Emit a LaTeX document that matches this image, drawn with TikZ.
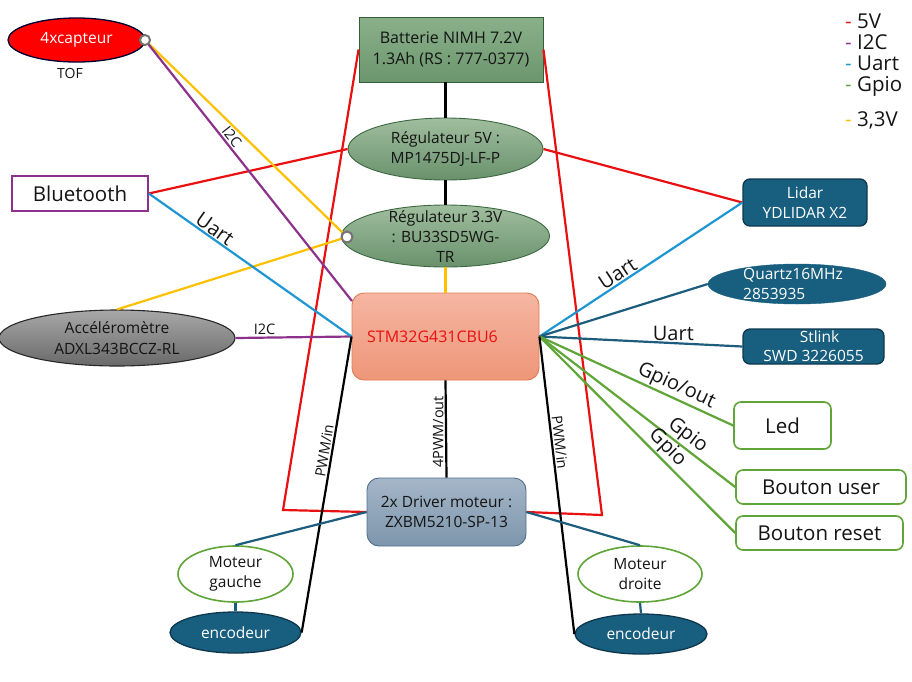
\documentclass[tikz,border=0pt]{standalone}
\usepackage{fontspec}
\setmainfont{Open Sans}
\usetikzlibrary{shapes.geometric,shadings}
\definecolor{cred}{RGB}{232,16,16}
\definecolor{cpur}{RGB}{140,50,140}
\definecolor{cblue}{RGB}{30,150,210}
\definecolor{cdblue}{RGB}{28,92,125}
\definecolor{cgreen}{RGB}{95,165,55}
\definecolor{cyel}{RGB}{255,192,0}
\definecolor{cteal}{RGB}{24,94,126}
\definecolor{ctealdk}{RGB}{14,55,78}
\definecolor{cbtop}{RGB}{138,176,138}
\definecolor{cbbot}{RGB}{108,150,110}
\definecolor{cbbord}{RGB}{50,95,58}
\definecolor{crtop}{RGB}{160,190,158}
\definecolor{crbot}{RGB}{105,145,108}
\definecolor{crbord}{RGB}{60,105,65}
\definecolor{cstop}{RGB}{245,182,162}
\definecolor{csbot}{RGB}{238,150,120}
\definecolor{csbord}{RGB}{225,125,85}
\definecolor{cdtop}{RGB}{165,182,200}
\definecolor{cdbot}{RGB}{125,150,172}
\definecolor{cdbord}{RGB}{80,110,140}
\definecolor{catop}{RGB}{168,168,168}
\definecolor{cabot}{RGB}{105,105,105}
\definecolor{cabord}{RGB}{40,40,40}
\definecolor{ctext}{RGB}{20,20,20}
\begin{document}
\begin{tikzpicture}[x=1pt,y=-1pt,
  every node/.style={font=\fontsize{15.5}{20.5}\selectfont, text=ctext},
  w/.style={line width=2.2pt},
  v5/.style={w, draw=cred},
  v33/.style={w, draw=cyel},
  i2c/.style={w, draw=cpur},
  uart/.style={w, draw=cblue},
  dbl/.style={w, draw=cdblue},
  gpio/.style={w, draw=cgreen},
  blk/.style={w, draw=black},
  greenell/.style={ellipse, draw=crbord, line width=0.9pt, top color=crtop, bottom color=crbot, inner sep=0pt},
  tealbox/.style={rectangle, rounded corners=7pt, draw=ctealdk, line width=1.3pt, fill=cteal, text=white, align=center, inner sep=0pt},
  greenbox/.style={rectangle, rounded corners=7pt, draw=cgreen, line width=1.6pt, fill=white, inner sep=0pt, font=\fontsize{20.5}{24}\selectfont},
  motell/.style={ellipse, draw=cgreen, line width=1.6pt, fill=white, inner sep=0pt},
  encell/.style={ellipse, draw=ctealdk, line width=1.3pt, fill=cteal, inner sep=0pt},
  lab/.style={font=\fontsize{14.5}{17}\selectfont, inner sep=1.5pt},
  biglab/.style={font=\fontsize{20}{24}\selectfont, inner sep=1pt},
  lg/.style={font=\fontsize{20.5}{24}\selectfont, anchor=west, inner sep=0pt},
  dot/.style={circle, draw=black!55, line width=2pt, fill=white, minimum size=10pt, inner sep=0pt}
]
\useasboundingbox (0,0) rectangle (912,681);

% ---------- nodes ----------
\node[ellipse, draw=black!80!blue, line width=1.3pt, fill=red, minimum width=137pt, minimum height=44pt, inner sep=0pt,
      label={[text=white]center:4xcapteur}] (cap) at (76.5,40) {};
\node[font=\fontsize{14}{17}\selectfont] (tof) at (70,73) {TOF};

\node[rectangle, draw=cbbord, line width=0.9pt, top color=cbtop, bottom color=cbbot, minimum width=184pt, minimum height=65pt, inner sep=0pt, align=center,
      font=\fontsize{16}{21}\selectfont] (bat) at (451,49.5) {Batterie NIMH 7.2V\\1.3Ah (RS : 777-0377)};

\node[greenell, minimum width=195pt, minimum height=62pt,
      label={[align=center]center:Régulateur 5V :\\MP1475DJ-LF-P}] (reg5) at (445.5,149) {};
\node[greenell, minimum width=208pt, minimum height=62pt,
      label={[align=center, font=\fontsize{15.5}{20}\selectfont, yshift=-1pt]center:Régulateur 3.3V\\: BU33SD5WG-\\TR}] (reg3) at (445.5,236) {};

\node[rectangle, rounded corners=12pt, draw=csbord, line width=0.9pt, top color=cstop, bottom color=csbot, minimum width=187pt, minimum height=87pt, inner sep=0pt,
      label={[text=cred, xshift=-13pt, font=\fontsize{16}{20}\selectfont]center:STM32G431CBU6}] (stm) at (445.5,336.5) {};

\node[rectangle, rounded corners=12pt, draw=cdbord, line width=0.9pt, top color=cdtop, bottom color=cdbot, minimum width=159pt, minimum height=68pt, inner sep=0pt, align=center] (drv) at (446.5,512) {2x Driver moteur :\\ZXBM5210-SP-13};

\node[motell, minimum width=115pt, minimum height=56pt, label={[align=center]center:Moteur\\gauche}] (mg) at (235.5,574) {};
\node[encell, minimum width=131pt, minimum height=41pt, label={[text=white]center:encodeur}] (encL) at (235.5,632.5) {};
\node[motell, minimum width=124pt, minimum height=56pt, label={[align=center]center:Moteur\\droite}] (md) at (640,574) {};
\node[encell, minimum width=132pt, minimum height=40pt, label={[text=white]center:encodeur}] (encR) at (641,634) {};

\node[rectangle, draw=cpur, line width=1.6pt, fill=white, minimum width=136pt, minimum height=35pt, inner sep=0pt, font=\fontsize{20.5}{24}\selectfont] (bt) at (80,193.5) {Bluetooth};

\node[ellipse, draw=cabord, line width=1.1pt, top color=catop, bottom color=cabot, minimum width=236pt, minimum height=56pt, inner sep=0pt,
      label={[align=center]center:Accéléromètre\\ADXL343BCCZ-RL}] (acc) at (117,338) {};

\node[tealbox, minimum width=124pt, minimum height=47pt] (lidar) at (805,202.5) {Lidar\\YDLIDAR X2};
\node[ellipse, draw=cteal, fill=cteal, minimum width=178pt, minimum height=40pt, inner sep=0pt,
      label={[text=white, align=left, xshift=-4pt]center:Quartz16MHz\\2853935}] (qz) at (797,284) {};
\node[tealbox, minimum width=141pt, minimum height=35pt,
      font=\fontsize{15.5}{19}\selectfont] (stl) at (813.5,346.5) {\hspace*{12pt}Stlink\\SWD 3226055};

\node[greenbox, minimum width=97pt, minimum height=47pt] (led) at (782.5,425.5) {Led};
\node[greenbox, minimum width=170pt, minimum height=34pt] (bu) at (821,487) {Bouton user};
\node[greenbox, minimum width=167pt, minimum height=34pt] (br) at (819.5,533) {Bouton reset};

% legend
\node[lg] (lg1) at (845,21) {\textcolor{cred}{-} 5V};
\node[lg] (lg2) at (845,42) {\textcolor{cpur}{-} I2C};
\node[lg] (lg3) at (845,63) {\textcolor{cblue}{-} Uart};
\node[lg] (lg4) at (845,86) {\textcolor{cgreen}{-} Gpio};
\node[lg] (lg5) at (845,120) {\textcolor{cyel}{-} 3,3V};

% ---------- connector points ----------
\coordinate (c1) at (145,40);
\coordinate (c2) at (347,237);
\coordinate (rl) at (283,510);
\coordinate (rr) at (602,515);
\coordinate (stmI2C) at (352,301);

% ---------- connectors ----------
\draw[v5] (bat.west) -- (rl) -- (drv.west);
\draw[v5] (bat.east) -- (rr) -- (drv.east);
\draw[v5] (bt.east) -- (reg5.west);
\draw[v5] (reg5.east) -- (lidar.west);

\draw[blk] (reg5.north |- bat.south) -- (reg5.north);
\draw[blk] (reg5.south) -- (reg3.north);
\draw[v33] (reg3.south) -- (stm.north);
\draw[v33] (c1) -- (c2);
\draw[v33] (acc.north) -- (c2);

\draw[i2c] (c1) -- node[lab, sloped, above, pos=0.39] (li2ca) {I2C} (stmI2C);
\draw[i2c] (acc.east) -- node[lab, above, pos=0.25] (li2cb) {I2C} (stm.west);
\draw[uart] (bt.east) -- node[biglab, sloped, above, pos=0.30] (lua) {Uart} (stm.west);
\draw[uart] (stm.east) -- node[biglab, sloped, above, pos=0.41] (lub) {Uart} (lidar.west);
\draw[dbl] (stm.east) -- (qz.west);
\draw[dbl] (stm.east) -- node[biglab, above, pos=0.66] (luc) {Uart} (stl.west);
\draw[gpio] (stm.east) -- node[biglab, sloped, above, pos=0.68] (lg_a) {Gpio/out} (led.west);
\draw[gpio] (stm.east) -- node[biglab, sloped, above, pos=0.72] (lg_b) {Gpio} (bu.west);
\draw[gpio] (stm.east) -- node[biglab, sloped, above, pos=0.61] (lg_c) {Gpio} (br.west);

\draw[blk] (stm.west) -- node[lab, sloped, above, pos=0.39] (lpa) {PWM/in} (encL.east);
\draw[blk] (stm.east) -- node[lab, sloped, above, pos=0.36] (lpb) {PWM/in} (encR.west);
\draw[blk] (stm.south) -- node[lab, rotate=90, anchor=south, pos=0.53] (lpc) {4PWM/out} (drv.north);

\draw[dbl] (drv.west) -- (mg.north);
\draw[dbl] (drv.east) -- (md.north);
\draw[dbl] (mg.south) -- (encL.north);
\draw[dbl] (md.south) -- (encR.north);

% connection dots
\node[dot] (d1) at (c1) {};
\node[dot, minimum size=11pt] (d2) at (c2) {};
\end{tikzpicture}
\end{document}
